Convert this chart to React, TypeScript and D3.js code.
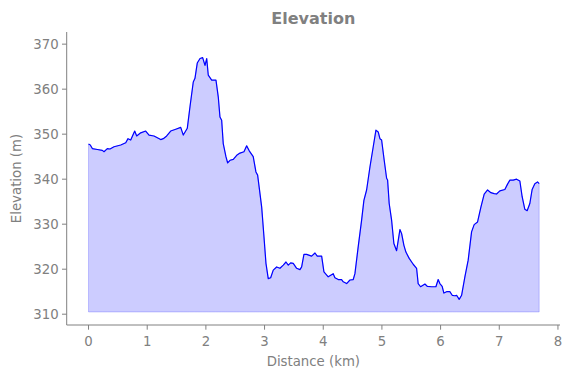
import React from "react";
import * as d3 from "d3";

const distanceKm = [
  0.0, 0.03, 0.065, 0.15, 0.235, 0.264, 0.32, 0.366, 0.434, 0.549, 0.634, 0.673, 0.719, 0.787,
  0.821, 0.889, 0.974, 1.031, 1.116, 1.23, 1.274, 1.332, 1.4, 1.486, 1.571, 1.615, 1.683, 1.729,
  1.785, 1.814, 1.853, 1.9, 1.945, 1.985, 2.014, 2.041, 2.099, 2.172, 2.211, 2.24, 2.269, 2.296,
  2.342, 2.371, 2.411, 2.467, 2.525, 2.581, 2.649, 2.695, 2.739, 2.807, 2.853, 2.882, 2.922, 2.951,
  2.99, 3.024, 3.063, 3.104, 3.148, 3.206, 3.262, 3.319, 3.365, 3.404, 3.445, 3.489, 3.547, 3.603,
  3.632, 3.671, 3.717, 3.802, 3.859, 3.898, 3.973, 4.012, 4.085, 4.17, 4.199, 4.256, 4.313, 4.341,
  4.399, 4.455, 4.511, 4.54, 4.596, 4.654, 4.693, 4.739, 4.796, 4.852, 4.898, 4.937, 4.966, 4.995,
  5.039, 5.08, 5.097, 5.124, 5.165, 5.204, 5.25, 5.278, 5.307, 5.336, 5.375, 5.409, 5.465, 5.533,
  5.591, 5.618, 5.659, 5.733, 5.772, 5.847, 5.92, 5.959, 5.988, 6.027, 6.056, 6.102, 6.158, 6.198,
  6.244, 6.273, 6.317, 6.358, 6.414, 6.47, 6.528, 6.572, 6.63, 6.687, 6.743, 6.801, 6.857, 6.913,
  6.954, 7.01, 7.095, 7.141, 7.181, 7.237, 7.295, 7.351, 7.39, 7.436, 7.475, 7.521, 7.56, 7.606,
  7.652, 7.68,
];

const elevationM = [
  347.8, 347.6, 346.8, 346.6, 346.4, 346.1, 346.8, 346.7, 347.2, 347.6, 348.1, 349.0, 348.7, 350.7,
  349.6, 350.3, 350.7, 349.8, 349.6, 348.8, 349.0, 349.6, 350.7, 351.1, 351.5, 349.8, 351.3, 356.1,
  361.6, 362.4, 365.8, 366.8, 367.0, 365.3, 366.8, 363.1, 362.0, 362.0, 358.3, 353.8, 353.1, 347.9,
  345.0, 343.6, 344.2, 344.4, 345.3, 345.8, 346.1, 347.4, 346.3, 345.0, 341.6, 340.9, 336.8, 333.8,
  327.2, 321.3, 317.9, 318.1, 319.8, 320.5, 320.2, 320.9, 321.6, 320.9, 321.4, 321.3, 320.2, 319.9,
  320.5, 323.3, 323.3, 322.9, 323.6, 322.9, 322.9, 319.4, 318.3, 319.0, 318.1, 317.7, 317.7, 317.2,
  316.8, 317.6, 317.7, 319.0, 325.0, 330.9, 335.3, 337.6, 342.7, 347.2, 350.9, 350.5, 349.0, 348.7,
  344.2, 340.2, 339.8, 334.6, 330.9, 325.7, 324.1, 326.4, 328.8, 327.9, 325.3, 323.8, 322.4, 321.1,
  320.2, 316.8, 316.1, 316.7, 316.2, 316.1, 316.1, 317.7, 316.8, 316.2, 314.7, 315.0, 315.0, 314.2,
  314.1, 314.2, 313.3, 314.2, 318.3, 322.0, 328.3, 329.9, 330.5, 333.8, 336.7, 337.6, 337.0, 336.8,
  336.7, 337.4, 337.7, 338.9, 339.8, 339.8, 340.0, 339.6, 336.1, 333.3, 333.0, 334.6, 337.7, 339.0,
  339.4, 339.0,
];

const fillBase = 310.5;
const xTicks = [0, 1, 2, 3, 4, 5, 6, 7, 8];
const yTicks = [310, 320, 330, 340, 350, 360, 370];
const titleText = "Elevation";
const xLabel = "Distance (km)";
const yLabel = "Elevation (m)";

export default function App() {
  const W = 572;
  const H = 378;
  const left = 66.7;
  const right = 560;
  const top = 32;
  const bottom = 325;
  const x = d3.scaleLinear().domain([-0.372, 8.035]).range([left, right]);
  const y = d3.scaleLinear().domain([307.6, 372.7]).range([bottom, top]);
  const data = distanceKm.map((d, i) => [d, elevationM[i]] as [number, number]);
  const line = d3.line<[number, number]>().x((d) => x(d[0])).y((d) => y(d[1]));
  const area = d3
    .area<[number, number]>()
    .x((d) => x(d[0]))
    .y0(() => y(fillBase))
    .y1((d) => y(d[1]));
  const gray = "#808080";
  const font = "DejaVu Sans, sans-serif";
  return (
    <svg
      width={W}
      height={H}
      style={{ position: "fixed", left: 0, top: 0, background: "#fff" }}
      fontFamily={font}
    >
      <path d={area(data) || ""} fill="rgb(0,0,255)" fillOpacity={0.2} stroke="rgb(0,0,255)" strokeOpacity={0.2} strokeWidth={1} />
      <path d={line(data) || ""} fill="none" stroke="blue" strokeWidth={1.2} strokeLinejoin="round" />
      <line x1={left} x2={left} y1={top} y2={bottom} stroke={gray} strokeWidth={1} />
      <line x1={left} x2={right} y1={bottom} y2={bottom} stroke={gray} strokeWidth={1} />
      {xTicks.map((t) => (
        <g key={"x" + t}>
          <line x1={x(t)} x2={x(t)} y1={bottom} y2={bottom + 4.7} stroke={gray} strokeWidth={1} />
          <text x={x(t)} y={bottom + 20.5} textAnchor="middle" fontSize={13.3} fill={gray}>
            {t}
          </text>
        </g>
      ))}
      {yTicks.map((t) => (
        <g key={"y" + t}>
          <line x1={left - 4.7} x2={left} y1={y(t)} y2={y(t)} stroke={gray} strokeWidth={1} />
          <text x={left - 8} y={y(t) + 4.8} textAnchor="end" fontSize={13.3} fill={gray}>
            {t}
          </text>
        </g>
      ))}
      <text x={(left + right) / 2} y={366} textAnchor="middle" fontSize={13.3} fill={gray}>
        {xLabel}
      </text>
      <text
        transform={`translate(21,${(top + bottom) / 2}) rotate(-90)`}
        textAnchor="middle"
        fontSize={13.3}
        fill={gray}
      >
        {yLabel}
      </text>
      <text x={(left + right) / 2} y={24} textAnchor="middle" fontSize={16} fontWeight="bold" fill={gray}>
        {titleText}
      </text>
    </svg>
  );
}
